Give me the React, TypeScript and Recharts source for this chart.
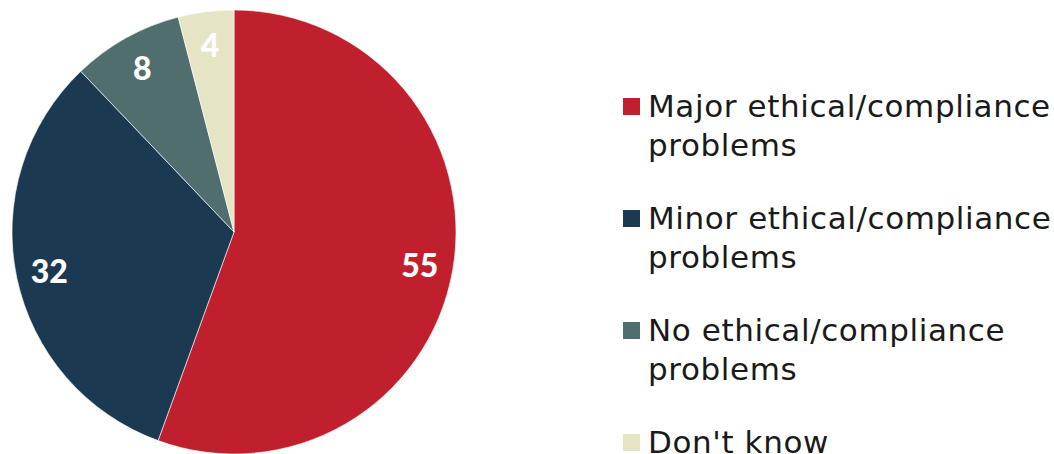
import React from "react"
import { PieChart, Pie, Cell, Legend } from "recharts"

// Survey shares, in percent
const categories = [
  "Major ethical/compliance problems",
  "Minor ethical/compliance problems",
  "No ethical/compliance problems",
  "Don't know",
]
const values = [55, 32, 8, 4]
const COLORS = ["#c0202e", "#1b3a52", "#506e6e", "#e5e4c5"]

const data = categories.map((name, i) => ({ name, value: values[i] }))

const RADIAN = Math.PI / 180

function SliceLabel(props: any) {
  const { cx, cy, midAngle, outerRadius, value } = props
  const r = outerRadius * 0.85
  const x = cx + r * Math.cos(-midAngle * RADIAN)
  const y = cy + r * Math.sin(-midAngle * RADIAN)
  return (
    <text
      x={x}
      y={y}
      fill="#ffffff"
      textAnchor="middle"
      dominantBaseline="central"
      fontFamily="Lato, 'DejaVu Sans', sans-serif"
      fontWeight={900}
      fontSize={32}
    >
      {value}
    </text>
  )
}

function LegendList() {
  return (
    <div
      style={{
        width: 440,
        fontFamily: "'DejaVu Sans', sans-serif",
        fontSize: 31,
        lineHeight: "39px",
        letterSpacing: 0.6,
        color: "#1a1a1a",
      }}
    >
      {data.map((d, i) => (
        <div key={d.name} style={{ position: "relative", paddingLeft: 25, marginBottom: 34 }}>
          <span
            style={{
              position: "absolute",
              left: 0,
              top: 11,
              width: 17,
              height: 17,
              background: COLORS[i],
            }}
          />
          {d.name}
        </div>
      ))}
    </div>
  )
}

export default function App() {
  return (
    <div
      style={{
        position: "fixed",
        left: 0,
        top: 0,
        width: 1054,
        height: 454,
        overflow: "hidden",
        background: "#fff",
      }}
    >
      <PieChart width={1054} height={454} margin={{ top: 0, right: 0, bottom: 0, left: 0 }}>
        <Pie
          data={data}
          dataKey="value"
          nameKey="name"
          cx={234}
          cy={232}
          outerRadius={222}
          startAngle={90}
          endAngle={-270}
          stroke="#ffffff"
          strokeWidth={0.6}
          label={SliceLabel}
          labelLine={false}
          isAnimationActive={false}
        >
          {data.map((_, i) => (
            <Cell key={i} fill={COLORS[i]} />
          ))}
        </Pie>
        <Legend
          content={<LegendList />}
          wrapperStyle={{ position: "absolute", left: 623, top: 87, width: 440 }}
        />
      </PieChart>
    </div>
  )
}
